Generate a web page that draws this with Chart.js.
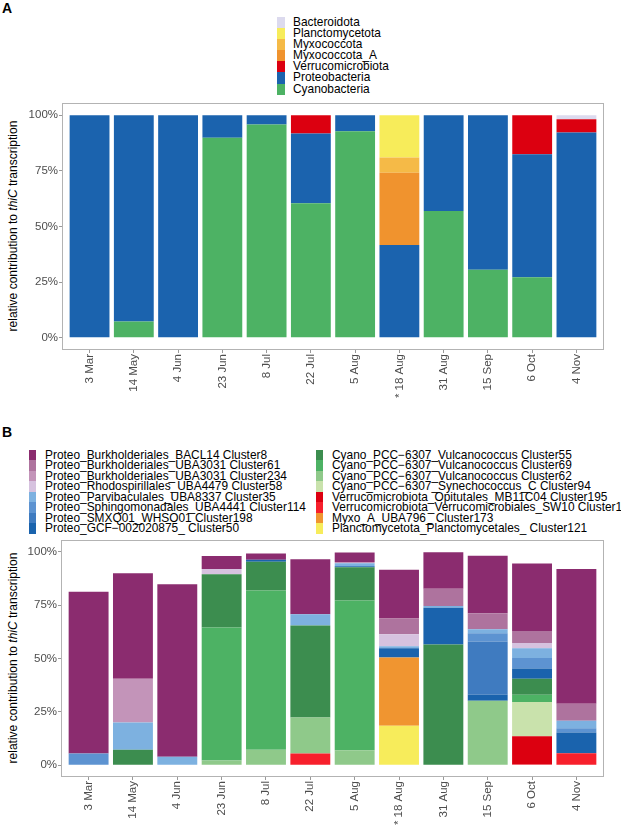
<!DOCTYPE html>
<html>
<head>
<meta charset="utf-8">
<script src="https://cdn.jsdelivr.net/npm/chart.js@4/dist/chart.umd.min.js"></script>
<style>
  body { margin: 0; width: 621px; height: 825px; overflow: hidden; background: #fff; position: relative;
         font-family: "Liberation Sans", Arial, sans-serif; color: #000; }
  canvas { position: absolute; left: 0; }
  .tag { position: absolute; left: 2px; font-size: 14px; font-weight: bold; line-height: 1; }
  .ytitle { position: absolute; font-size: 12px; white-space: nowrap; transform: translate(-50%, -50%) rotate(-90deg); }
  .legend { position: absolute; font-size: 11.9px; }
  .legend .row { position: relative; white-space: nowrap; }
  .legend .key { position: absolute; left: 0; top: 0; }
  .legend .txt { position: absolute; top: 0; }
</style>
</head>
<body>
<div class="tag" style="top:1px">A</div>
<div class="tag" style="top:425px">B</div>
<div class="ytitle" style="left:13px;top:226px">relative contribution to <i>thiC</i> transcription</div>
<div class="ytitle" style="left:13px;top:658px">relative contribution to <i>thiC</i> transcription</div>
<div id="legendA" class="legend" style="left:277px;top:17px"></div>
<div id="legendB1" class="legend" style="left:29px;top:450px"></div>
<div id="legendB2" class="legend" style="left:316px;top:450px"></div>
<canvas id="chartA" width="621" height="412" style="top:0"></canvas>
<canvas id="chartB" width="621" height="413" style="top:412px"></canvas>
<script>
// Sampling dates
const categories = ["3 Mar", "14 May", "4 Jun", "23 Jun", "8 Jul", "22 Jul", "5 Aug", "* 18 Aug", "31 Aug", "15 Sep", "6 Oct", "4 Nov"];
const yTicks = [0, 25, 50, 75, 100];

// Panel A - phyla (% of thiC transcription), stacked bottom -> top
const cyanobacteria     = [0, 7.3, 0, 89.8, 95.8, 60.4, 92.8, 0, 57.0, 30.6, 27.2, 0];
const proteobacteria    = [100, 92.7, 100, 10.2, 4.2, 31.4, 7.2, 41.7, 43.0, 69.4, 55.2, 92.2];
const verrucomicrobiota = [0, 0, 0, 0, 0, 8.2, 0, 0, 0, 0, 17.6, 6.0];
const myxococcotaA      = [0, 0, 0, 0, 0, 0, 0, 32.4, 0, 0, 0, 0];
const myxococcota       = [0, 0, 0, 0, 0, 0, 0, 6.9, 0, 0, 0, 0];
const planctomycetota   = [0, 0, 0, 0, 0, 0, 0, 19.0, 0, 0, 0, 0];
const bacteroidota      = [0, 0, 0, 0, 0, 0, 0, 0, 0, 0, 0, 1.8];

const namesA = ["Cyanobacteria", "Proteobacteria", "Verrucomicrobiota", "Myxococcota_A", "Myxococcota", "Planctomycetota", "Bacteroidota"];
const seriesA = [cyanobacteria, proteobacteria, verrucomicrobiota, myxococcotaA, myxococcota, planctomycetota, bacteroidota];
const colorsA = ["#4DB264", "#1B63AE", "#DC0010", "#F0932E", "#F5BA47", "#F7EC5A", "#DCDAEE"];

// Panel B - clusters, stacked bottom -> top
const cl121 = [0, 0, 0, 0, 0, 0, 0, 18.5, 0, 0, 0, 0];
const cl173 = [0, 0, 0, 0, 0, 0, 0, 32.0, 0, 0, 0, 0];
const cl1   = [0, 0, 0, 0, 0, 5.5, 0, 0, 0, 0, 0.4, 5.6];
const cl195 = [0, 0, 0, 0, 0, 0, 0, 0, 0, 0, 13.2, 0];
const cl94  = [0, 0, 0, 0, 0, 0, 0, 0, 0, 0, 16.0, 0];
const cl62  = [0, 0, 0, 2.3, 7.3, 16.9, 7.0, 0, 0, 30.2, 0, 0];
const cl69  = [0, 0, 0, 62.2, 74.5, 0, 70.1, 0, 0, 0, 3.4, 0];
const cl55  = [0, 7.3, 0, 24.9, 13.5, 43.0, 15.6, 0, 56.5, 0, 7.5, 0];
const cl50  = [0, 0, 0, 0, 0.9, 0, 0.5, 4.3, 17.3, 3.0, 4.8, 9.8];
const cl198 = [0, 0, 0, 0, 0, 0, 0, 0, 0, 24.7, 0, 0];
const cl114 = [5.5, 0, 0, 0, 0, 0, 0, 0, 0, 3.9, 4.9, 2.0];
const cl35  = [0, 12.8, 4.0, 0, 0, 5.3, 1.4, 0.9, 0.8, 1.9, 4.6, 3.5];
const cl58  = [0, 0, 0, 2.5, 0, 0, 0, 5.7, 0, 0, 2.4, 0];
const cl234 = [0, 20.4, 0, 0, 0, 0, 0.6, 0, 0, 0, 0, 0];
const cl61  = [0, 0, 0, 0, 0, 0, 0, 7.3, 8.0, 7.5, 5.7, 7.9];
const cl8   = [75.8, 49.4, 80.7, 6.1, 2.9, 25.7, 4.4, 22.9, 17.1, 26.9, 31.6, 63.1];

const namesB = [
  "Planctomycetota_Planctomycetales_ Cluster121",
  "Myxo_A_UBA796_ Cluster173",
  "Verrucomicrobiota_Verrucomicrobiales_SW10 Cluster1",
  "Verrucomicrobiota_Opitutales_MB11C04 Cluster195",
  "Cyano_PCC−6307_Synechococcus_C Cluster94",
  "Cyano_PCC−6307_Vulcanococcus Cluster62",
  "Cyano_PCC−6307_Vulcanococcus Cluster69",
  "Cyano_PCC−6307_Vulcanococcus Cluster55",
  "Proteo_GCF−002020875_ Cluster50",
  "Proteo_SMXQ01_WHSO01 Cluster198",
  "Proteo_Sphingomonadales_UBA4441 Cluster114",
  "Proteo_Parvibaculales_UBA8337 Cluster35",
  "Proteo_Rhodospirillales_UBA4479 Cluster58",
  "Proteo_Burkholderiales_UBA3031 Cluster234",
  "Proteo_Burkholderiales_UBA3031 Cluster61",
  "Proteo_Burkholderiales_BACL14 Cluster8"
];
const seriesB = [cl121, cl173, cl1, cl195, cl94, cl62, cl69, cl55, cl50, cl198, cl114, cl35, cl58, cl234, cl61, cl8];
const colorsB = ["#F7EC5B", "#F09530", "#F7202C", "#DC0010", "#C9E2AC", "#8FC98A", "#4DB264", "#3C8D4F",
                 "#1A63AD", "#3F7BC0", "#5D93D1", "#7DB1E0", "#D6C2DF", "#C394B9", "#AE739E", "#8B2C6F"];

const FONT = "'Liberation Sans', Arial, sans-serif";

// grey panel border round the plot area
const frame = {
  id: "frame",
  afterDraw(chart) {
    const a = chart.chartArea, ctx = chart.ctx;
    ctx.save();
    ctx.strokeStyle = "#B3B3B3";
    ctx.lineWidth = 1;
    ctx.strokeRect(Math.round(a.left) - 0.5, Math.round(a.top) - 0.5,
                   Math.round(a.right) - Math.round(a.left) + 1, Math.round(a.bottom) - Math.round(a.top) + 1);
    ctx.restore();
  }
};

function makeChart(id, names, series, colors, padTop, yWidth, xHeight) {
  return new Chart(document.getElementById(id), {
    type: "bar",
    data: {
      datasets: series.map((s, k) => ({
        label: names[k],
        data: s.map((v, i) => ({ x: i, y: v })),
        backgroundColor: colors[k],
        borderWidth: 0,
        barPercentage: 0.9,
        categoryPercentage: 1
      }))
    },
    options: {
      responsive: false,
      animation: false,
      layout: { padding: { top: padTop, right: 18, bottom: 0, left: 0 } },
      plugins: { legend: { display: false }, tooltip: { enabled: false } },
      scales: {
        x: {
          type: "linear",
          stacked: true,
          offset: false,
          min: -0.6,
          max: categories.length - 0.4,
          afterBuildTicks: s => { s.ticks = categories.map((c, i) => ({ value: i })); },
          afterFit: s => { s.height = xHeight; },
          border: { display: false },
          grid: { offset: false, drawOnChartArea: false, tickLength: 4, color: "#999" },
          ticks: {
            autoSkip: false, minRotation: 90, maxRotation: 90, padding: 1,
            color: "#4D4D4D", font: { family: FONT, size: 11.5 },
            callback: v => categories[v]
          }
        },
        y: {
          stacked: true,
          min: -5,
          max: 105,
          afterBuildTicks: s => { s.ticks = yTicks.map(v => ({ value: v })); },
          afterFit: s => { s.width = yWidth; },
          border: { display: false },
          grid: { drawOnChartArea: false, tickLength: 4, color: "#999" },
          ticks: {
            padding: 1, color: "#4D4D4D", font: { family: FONT, size: 11.5 },
            callback: v => v + "%"
          }
        }
      }
    },
    plugins: [frame]
  });
}

// HTML legend, top row = top of the stack
function legend(el, idx, names, colors, rowH, keyW, textX) {
  const box = document.getElementById(el);
  idx.forEach(k => {
    const row = document.createElement("div");
    row.className = "row";
    row.style.height = rowH + "px";
    row.style.lineHeight = rowH + "px";
    row.innerHTML = `<span class="key" style="width:${keyW}px;height:${rowH}px;background:${colors[k]}"></span>` +
                    `<span class="txt" style="left:${textX}px">${names[k]}</span>`;
    box.appendChild(row);
  });
}

makeChart("chartA", namesA, seriesA, colorsA, 104, 63, 63);
makeChart("chartB", namesB, seriesB, colorsB, 129, 62, 49);

legend("legendA", [6, 5, 4, 3, 2, 1, 0], namesA, colorsA, 11.1, 8, 16);
legend("legendB1", [15, 14, 13, 12, 11, 10, 9, 8], namesB, colorsB, 10.47, 7, 16);
legend("legendB2", [7, 6, 5, 4, 3, 2, 1, 0], namesB, colorsB, 10.47, 7, 16);
</script>
</body>
</html>
